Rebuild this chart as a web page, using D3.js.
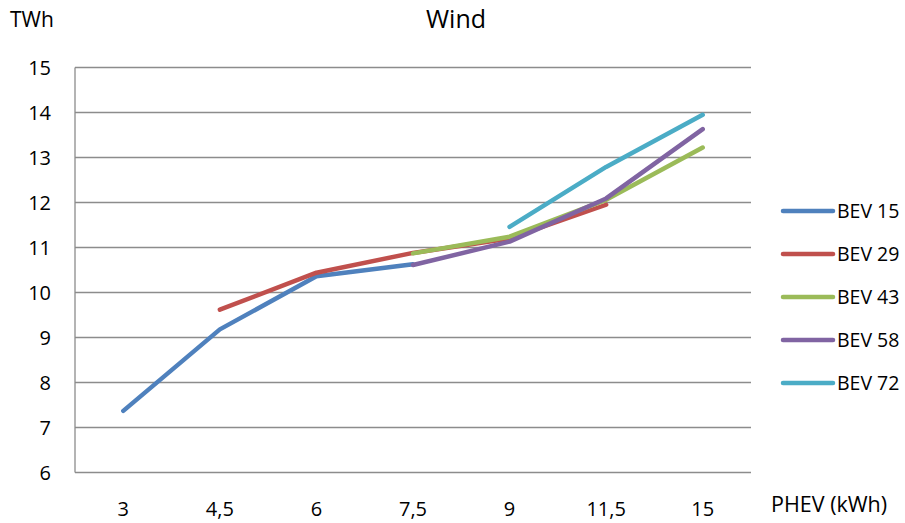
<!DOCTYPE html>
<html><head><meta charset="utf-8">
<script src="https://cdn.jsdelivr.net/npm/d3@7"></script>
<style>body{margin:0;background:#fff}svg{display:block}text{font-family:"Open Sans","Liberation Sans",sans-serif;fill:#000}</style>
</head><body><svg id="c" width="905" height="523"></svg>
<script>
const categories = ["3","4,5","6","7,5","9","11,5","15"];
const seriesNames = ["BEV 15","BEV 29","BEV 43","BEV 58","BEV 72"];
const bev15 = [7.37, 9.18, 10.36, 10.63, null, null, null];
const bev29 = [null, 9.62, 10.44, 10.88, 11.2, 11.95, null];
const bev43 = [null, null, null, 10.87, 11.24, 12.06, 13.22];
const bev58 = [null, null, null, 10.61, 11.13, 12.09, 13.63];
const bev72 = [null, null, null, null, 11.46, 12.79, 13.95];
const colors = ["#4F81BD","#C0504D","#9BBB59","#8064A2","#4BACC6"];
const yTicks = [6,7,8,9,10,11,12,13,14,15];

const svg = d3.select("#c");
const L=75, R=751, T=67.5, B=472.5;
const x = d3.scaleBand().domain(categories).range([L,R]);
const y = d3.scaleLinear().domain([6,15]).range([B,T]);

// gridlines
svg.append("g").selectAll("line").data(yTicks).join("line")
  .attr("x1",L).attr("x2",R).attr("y1",d=>y(d)).attr("y2",d=>y(d))
  .attr("stroke","#8c8c8c").attr("stroke-width",1.3);
svg.append("line").attr("x1",L).attr("x2",L).attr("y1",T).attr("y2",B).attr("stroke","#8c8c8c").attr("stroke-width",1.3);

// y labels
svg.append("g").selectAll("text").data(yTicks).join("text")
  .attr("x",51).attr("y",d=>y(d)).attr("dy","0.36em").attr("text-anchor","end")
  .attr("font-size",20).text(d=>d);
// x labels
svg.append("g").selectAll("text").data(categories).join("text")
  .attr("x",d=>x(d)+x.bandwidth()/2).attr("y",516).attr("text-anchor","middle")
  .attr("font-size",20).text(d=>d);

svg.append("text").attr("x",456).attr("y",28).attr("text-anchor","middle").attr("font-size",25).text("Wind");
svg.append("text").attr("x",10).attr("y",27).attr("font-size",21).text("TWh");
svg.append("text").attr("x",771).attr("y",512).attr("font-size",21.5).text("PHEV (kWh)");

const all = [bev15,bev29,bev43,bev58,bev72];
const line = d3.line().defined(d=>d.v!=null).x(d=>x(d.c)+x.bandwidth()/2).y(d=>y(d.v));
all.forEach((s,i)=>{
  svg.append("path").datum(categories.map((c,j)=>({c,v:s[j]})))
    .attr("d",line).attr("fill","none").attr("stroke",colors[i]).attr("stroke-width",4.5)
    .attr("stroke-linecap","round").attr("stroke-linejoin","round");
});

// legend
const lg = svg.append("g");
seriesNames.forEach((n,i)=>{
  const yy = 211 + i*43;
  lg.append("line").attr("x1",783).attr("x2",833).attr("y1",yy).attr("y2",yy)
    .attr("stroke",colors[i]).attr("stroke-width",4.5).attr("stroke-linecap","round");
  lg.append("text").attr("x",837).attr("y",yy).attr("dy","0.36em").attr("font-size",19.5).text(n);
});
</script></body></html>
